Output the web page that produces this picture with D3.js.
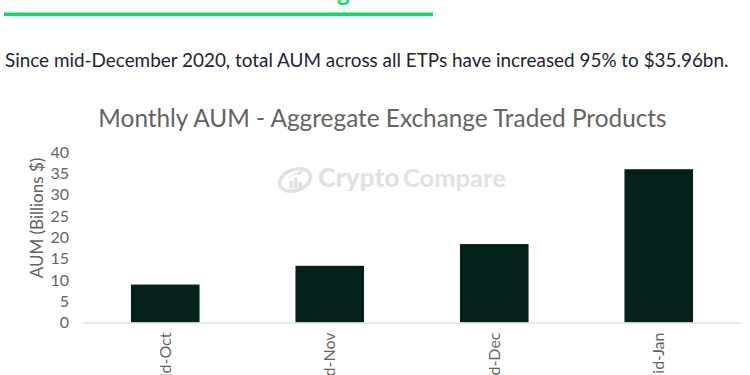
<!DOCTYPE html>
<html>
<head>
<meta charset="utf-8">
<script src="https://cdn.jsdelivr.net/npm/d3@7"></script>
<style>
  html, body { margin: 0; padding: 0; background: #fff; overflow: hidden; }
  text { font-family: Lato, sans-serif; }
  .y-axis text, .x-axis text { fill: #636363; }
</style>
</head>
<body>
<svg id="chart" width="750" height="375"></svg>
<script>
const categories = ["Mid-Oct", "Mid-Nov", "Mid-Dec", "Mid-Jan"];
const aum = [8.9, 13.3, 18.4, 35.96];
const yTicks = [0, 5, 10, 15, 20, 25, 30, 35, 40];

const chartTitle = "Monthly AUM - Aggregate Exchange Traded Products";
const intro = "Since mid-December 2020, total AUM across all ETPs have increased 95% to $35.96bn.";

const svg = d3.select("#chart");

// bits of the report page around the chart
svg.append("rect")
  .attr("x", 4).attr("y", 12.5)
  .attr("width", 429).attr("height", 3.5)
  .attr("fill", "#0fdc64");

svg.append("text")   // only the tail of the heading is left in the crop
  .attr("x", 337).attr("y", 0.5)
  .attr("font-size", 24).attr("font-weight", 700)
  .attr("fill", "#0fdc64")
  .text("g");

svg.append("text")
  .attr("x", 5).attr("y", 67)
  .attr("font-size", 18.9)
  .attr("fill", "#1d2433")
  .text(intro);

svg.append("text")
  .attr("x", 382.5).attr("y", 126.5)
  .attr("text-anchor", "middle")
  .attr("font-size", 24.35)
  .attr("fill", "#636363")
  .text(chartTitle);

// watermark
const wm = svg.append("g").attr("fill", "#e1e1e1");
wm.append("ellipse")
  .attr("cx", 295).attr("cy", 180).attr("rx", 16).attr("ry", 10.5)
  .attr("transform", "rotate(-20 295 180)")
  .attr("fill", "none").attr("stroke", "#e1e1e1").attr("stroke-width", 3.5);
wm.append("path")   // little chart inside the logo ring
  .attr("d", "M290 188v-7h2.5v7zM294.5 188v-10h2.5v10zM299 188v-6h2.5v6zM288 178l7-5 4 2 6-7")
  .attr("stroke", "#e1e1e1").attr("stroke-width", 1);
wm.append("text")
  .attr("x", 318).attr("y", 187)
  .attr("font-size", 26.5).attr("font-weight", 900)
  .text("Crypto");
wm.append("text")
  .attr("x", 403).attr("y", 187)
  .attr("font-size", 25.5).attr("font-weight", 700)
  .text("Compare");

const x = d3.scaleBand()
  .domain(categories)
  .range([83, 741])
  .paddingInner(0.583)
  .paddingOuter(0.2915);

const y = d3.scaleLinear()
  .domain([0, 40])
  .range([322.5, 152]);

svg.selectAll(".bar")
  .data(aum)
  .enter()
  .append("rect")
  .attr("class", "bar")
  .attr("x", (d, i) => x(categories[i]))
  .attr("y", d => y(d))
  .attr("width", x.bandwidth())
  .attr("height", d => y(0) - y(d))
  .attr("fill", "#03211a");

const yAxis = svg.append("g")
  .attr("class", "y-axis")
  .attr("transform", "translate(69,0)")
  .call(d3.axisLeft(y).tickValues(yTicks).tickSize(0).tickPadding(0));
yAxis.select(".domain").remove();
yAxis.selectAll("text").style("font-family", "Lato, sans-serif").style("font-size", "16px");

const xAxis = svg.append("g")
  .attr("class", "x-axis")
  .attr("transform", `translate(0,${y(0)})`)
  .call(d3.axisBottom(x).tickSize(0));
xAxis.select(".domain")
  .attr("stroke", "#e2e2e2")
  .attr("stroke-width", 1.5);
xAxis.selectAll("text")
  .style("font-family", "Lato, sans-serif")
  .style("font-size", "16px")
  .attr("text-anchor", "end")
  .attr("dy", "0.35em")
  .attr("x", 0)
  .attr("y", 0)
  .attr("transform", "translate(0,10) rotate(-90)");

svg.append("text")
  .attr("transform", "translate(43,218) rotate(-90)")
  .attr("text-anchor", "middle")
  .attr("font-size", 17)
  .attr("fill", "#636363")
  .text("AUM (Billions $)");
</script>
</body>
</html>
